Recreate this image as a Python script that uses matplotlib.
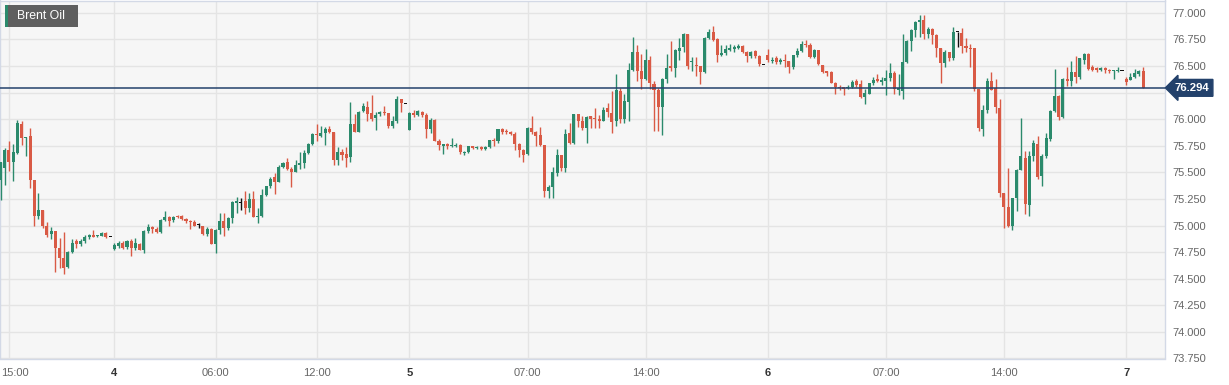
import numpy as np
import matplotlib
matplotlib.use("Agg")
import matplotlib.pyplot as plt
from matplotlib.patches import Rectangle
from matplotlib.transforms import ScaledTranslation

plt.rcParams['font.family'] = ['Liberation Sans', 'DejaVu Sans']

# 15-minute Brent Oil candles
opens = [
    75.43, 75.54, 75.71, 75.60, 75.68, 75.95, 75.82, 75.84, 75.43, 75.09,
    75.15, 75.00, 74.92, 74.95, 74.79, 74.69, 74.61, 74.75, 74.85, 74.83,
    74.85, 74.89, 74.91, 74.90, 74.90, 74.93, 74.90, 74.78, 74.81, 74.84,
    74.80, 74.85, 74.79, 74.83, 74.77, 74.95, 74.99, 74.97, 74.94, 75.05,
    75.08, 75.05, 75.09, 75.09, 75.06, 75.04, 75.03, 75.01, 75.00, 74.92,
    74.97, 74.83, 74.96, 75.04, 74.98, 75.07, 75.21, 75.22, 75.23, 75.16,
    75.25, 75.08, 75.09, 75.29, 75.37, 75.46, 75.41, 75.55, 75.60, 75.53,
    75.50, 75.57, 75.59, 75.68, 75.77, 75.86, 75.84, 75.87, 75.91, 75.88,
    75.62, 75.69, 75.67, 75.64, 75.95, 75.88, 76.08, 76.11, 76.06, 76.01,
    76.05, 76.07, 76.06, 75.94, 75.98, 76.19, 76.15, 75.90, 76.06, 76.04,
    76.07, 76.04, 75.91, 75.99, 75.79, 75.75, 75.77, 75.75, 75.75, 75.76,
    75.68, 75.69, 75.75, 75.73, 75.74, 75.72, 75.74, 75.80, 75.79, 75.91,
    75.89, 75.88, 75.86, 75.77, 75.71, 75.67, 75.92, 75.88, 75.85, 75.76,
    75.32, 75.36, 75.49, 75.66, 75.54, 75.87, 75.78, 76.05, 75.98, 75.92,
    76.03, 76.01, 76.00, 75.98, 76.10, 76.06, 75.98, 76.26, 76.00, 76.16,
    76.46, 76.63, 76.45, 76.38, 76.56, 76.33, 76.27, 76.11, 76.38, 76.50,
    76.48, 76.64, 76.68, 76.80, 76.54, 76.51, 76.50, 76.44, 76.76, 76.82,
    76.75, 76.60, 76.62, 76.65, 76.66, 76.67, 76.69, 76.63, 76.59, 76.64,
    76.59, 76.51, 76.60, 76.55, 76.57, 76.54, 76.56, 76.55, 76.49, 76.60,
    76.64, 76.71, 76.70, 76.58, 76.65, 76.51, 76.45, 76.44, 76.34, 76.30,
    76.30, 76.29, 76.30, 76.36, 76.33, 76.21, 76.24, 76.34, 76.38, 76.35,
    76.36, 76.39, 76.43, 76.27, 76.26, 76.54, 76.73, 76.84, 76.91, 76.93,
    76.80, 76.85, 76.79, 76.67, 76.53, 76.63, 76.57, 76.82, 76.81, 76.69,
    76.67, 76.67, 76.28, 75.91, 76.09, 76.36, 76.29, 76.10, 75.31, 75.17,
    75.00, 75.26, 75.52, 75.63, 75.19, 75.65, 75.77, 75.47, 75.65, 75.81,
    76.08, 76.22, 76.02, 76.38, 76.36, 76.44, 76.40, 76.56, 76.61, 76.49,
    76.48, 76.46, 76.48, 76.46, 76.45, 76.45, 76.46, 76.38, 76.37, 76.40,
    76.42, 76.45,
]
highs = [
    75.60, 75.73, 75.79, 75.77, 75.99, 75.98, 75.83, 75.92, 75.43, 75.31,
    75.15, 75.03, 74.99, 74.95, 74.88, 74.94, 74.76, 74.87, 74.87, 74.87,
    74.91, 74.92, 74.96, 74.91, 74.94, 74.94, 74.90, 74.84, 74.85, 74.85,
    74.86, 74.87, 74.88, 74.84, 74.96, 75.01, 75.00, 74.99, 75.06, 75.14,
    75.09, 75.09, 75.10, 75.10, 75.07, 75.05, 75.05, 75.02, 75.00, 74.99,
    74.98, 74.97, 75.12, 75.12, 75.08, 75.23, 75.27, 75.26, 75.32, 75.31,
    75.32, 75.16, 75.34, 75.37, 75.46, 75.49, 75.57, 75.60, 75.63, 75.55,
    75.62, 75.69, 75.71, 75.78, 75.87, 75.95, 75.94, 75.93, 75.94, 75.88,
    75.74, 75.72, 75.74, 76.16, 76.05, 76.08, 76.15, 76.17, 76.23, 76.07,
    76.08, 76.12, 76.06, 76.03, 76.22, 76.19, 76.15, 76.07, 76.09, 76.09,
    76.08, 76.06, 76.01, 76.00, 75.81, 75.77, 75.78, 75.82, 75.78, 75.77,
    75.70, 75.75, 75.75, 75.75, 75.75, 75.75, 75.80, 75.82, 75.91, 75.92,
    75.91, 75.89, 75.88, 75.78, 75.72, 75.93, 76.03, 75.89, 75.93, 75.76,
    75.38, 75.55, 75.72, 75.66, 75.91, 75.96, 76.05, 76.05, 76.03, 76.03,
    76.03, 76.10, 76.04, 76.11, 76.15, 76.26, 76.42, 76.29, 76.24, 76.53,
    76.77, 76.70, 76.61, 76.66, 76.59, 76.36, 76.29, 76.39, 76.61, 76.73,
    76.66, 76.76, 76.81, 76.80, 76.58, 76.58, 76.50, 76.77, 76.85, 76.88,
    76.76, 76.70, 76.70, 76.71, 76.70, 76.71, 76.70, 76.64, 76.64, 76.65,
    76.60, 76.51, 76.66, 76.58, 76.59, 76.57, 76.61, 76.55, 76.60, 76.67,
    76.73, 76.74, 76.72, 76.66, 76.65, 76.51, 76.45, 76.45, 76.35, 76.32,
    76.30, 76.32, 76.37, 76.38, 76.37, 76.28, 76.34, 76.40, 76.42, 76.40,
    76.46, 76.53, 76.45, 76.42, 76.80, 76.74, 76.85, 76.92, 76.98, 76.98,
    76.87, 76.86, 76.80, 76.67, 76.65, 76.63, 76.87, 76.82, 76.86, 76.76,
    76.71, 76.67, 76.28, 76.13, 76.39, 76.44, 76.38, 76.19, 75.31, 75.54,
    75.26, 75.53, 76.01, 75.70, 75.70, 75.80, 75.84, 75.67, 75.87, 76.09,
    76.47, 76.23, 76.39, 76.49, 76.55, 76.59, 76.57, 76.62, 76.62, 76.51,
    76.49, 76.49, 76.49, 76.47, 76.46, 76.49, 76.46, 76.40, 76.43, 76.47,
    76.46, 76.49,
]
lows = [
    75.24, 75.38, 75.51, 75.42, 75.67, 75.76, 75.65, 75.35, 75.00, 75.06,
    74.98, 74.89, 74.87, 74.56, 74.60, 74.54, 74.60, 74.74, 74.79, 74.81,
    74.84, 74.87, 74.89, 74.89, 74.90, 74.88, 74.90, 74.77, 74.79, 74.78,
    74.78, 74.71, 74.77, 74.77, 74.74, 74.93, 74.93, 74.93, 74.93, 75.04,
    75.00, 75.03, 75.07, 75.05, 75.02, 74.97, 75.00, 74.98, 74.91, 74.90,
    74.83, 74.74, 74.92, 74.90, 74.96, 75.02, 75.12, 75.15, 75.11, 75.13,
    75.08, 75.02, 75.08, 75.28, 75.35, 75.30, 75.41, 75.54, 75.52, 75.36,
    75.50, 75.53, 75.54, 75.67, 75.76, 75.79, 75.83, 75.76, 75.87, 75.57,
    75.57, 75.62, 75.55, 75.60, 75.88, 75.88, 76.07, 75.98, 75.98, 75.90,
    76.03, 76.04, 75.92, 75.92, 75.96, 76.07, 76.15, 75.90, 76.02, 76.03,
    76.02, 75.82, 75.87, 75.79, 75.71, 75.67, 75.72, 75.74, 75.74, 75.67,
    75.66, 75.68, 75.72, 75.72, 75.71, 75.71, 75.73, 75.75, 75.78, 75.86,
    75.86, 75.85, 75.71, 75.64, 75.60, 75.66, 75.86, 75.75, 75.75, 75.27,
    75.26, 75.26, 75.47, 75.51, 75.50, 75.77, 75.77, 75.93, 75.90, 75.78,
    75.92, 75.92, 75.92, 75.98, 76.02, 75.87, 75.94, 75.96, 75.96, 75.98,
    76.45, 76.36, 76.28, 76.37, 76.28, 75.89, 75.89, 75.85, 76.34, 76.45,
    76.40, 76.56, 76.63, 76.47, 76.45, 76.41, 76.33, 76.43, 76.75, 76.73,
    76.54, 76.59, 76.60, 76.64, 76.63, 76.66, 76.62, 76.54, 76.57, 76.57,
    76.50, 76.51, 76.54, 76.53, 76.52, 76.52, 76.49, 76.43, 76.47, 76.58,
    76.63, 76.68, 76.57, 76.57, 76.51, 76.43, 76.41, 76.34, 76.24, 76.27,
    76.23, 76.28, 76.29, 76.30, 76.20, 76.14, 76.24, 76.32, 76.35, 76.32,
    76.23, 76.36, 76.24, 76.23, 76.19, 76.53, 76.64, 76.77, 76.77, 76.75,
    76.76, 76.71, 76.58, 76.34, 76.49, 76.55, 76.56, 76.68, 76.62, 76.63,
    76.49, 76.26, 75.89, 75.84, 76.06, 76.27, 76.06, 75.27, 74.98, 74.99,
    74.96, 75.14, 75.52, 75.11, 75.09, 75.61, 75.44, 75.37, 75.63, 75.79,
    76.07, 75.99, 76.01, 76.31, 76.31, 76.34, 76.38, 76.52, 76.46, 76.45,
    76.44, 76.45, 76.43, 76.43, 76.38, 76.44, 76.46, 76.32, 76.37, 76.39,
    76.41, 76.294,
]
closes = [
    75.60, 75.71, 75.60, 75.69, 75.96, 75.82, 75.83, 75.43, 75.09, 75.15,
    75.00, 74.91, 74.95, 74.79, 74.69, 74.60, 74.75, 74.84, 74.83, 74.85,
    74.89, 74.91, 74.89, 74.91, 74.93, 74.89, 74.90, 74.82, 74.84, 74.79,
    74.85, 74.79, 74.84, 74.77, 74.95, 74.99, 74.97, 74.94, 75.05, 75.08,
    75.04, 75.08, 75.08, 75.06, 75.04, 75.03, 75.00, 75.01, 74.92, 74.97,
    74.83, 74.96, 75.04, 74.98, 75.07, 75.22, 75.23, 75.22, 75.16, 75.25,
    75.08, 75.09, 75.29, 75.37, 75.44, 75.41, 75.55, 75.59, 75.53, 75.50,
    75.57, 75.59, 75.68, 75.77, 75.86, 75.85, 75.87, 75.91, 75.88, 75.62,
    75.69, 75.66, 75.63, 75.95, 75.88, 76.07, 76.12, 76.05, 76.00, 76.04,
    76.07, 76.06, 75.94, 75.98, 76.19, 76.15, 76.15, 76.06, 76.04, 76.08,
    76.04, 75.91, 75.99, 75.79, 75.76, 75.77, 75.75, 75.76, 75.76, 75.69,
    75.69, 75.75, 75.73, 75.74, 75.72, 75.74, 75.80, 75.79, 75.91, 75.88,
    75.88, 75.86, 75.77, 75.71, 75.66, 75.92, 75.88, 75.84, 75.76, 75.32,
    75.36, 75.50, 75.66, 75.54, 75.86, 75.78, 76.05, 75.98, 75.92, 76.02,
    76.00, 76.00, 75.98, 76.09, 76.07, 75.97, 76.27, 76.00, 76.17, 76.46,
    76.63, 76.45, 76.38, 76.56, 76.34, 76.27, 76.11, 76.38, 76.48, 76.48,
    76.65, 76.67, 76.80, 76.50, 76.55, 76.50, 76.44, 76.76, 76.82, 76.74,
    76.60, 76.62, 76.66, 76.67, 76.68, 76.69, 76.63, 76.59, 76.63, 76.59,
    76.52, 76.51, 76.56, 76.56, 76.54, 76.56, 76.55, 76.49, 76.60, 76.64,
    76.71, 76.70, 76.58, 76.65, 76.52, 76.44, 76.43, 76.34, 76.30, 76.29,
    76.28, 76.30, 76.35, 76.32, 76.21, 76.25, 76.34, 76.37, 76.36, 76.37,
    76.39, 76.43, 76.28, 76.29, 76.54, 76.73, 76.84, 76.91, 76.93, 76.80,
    76.85, 76.79, 76.67, 76.53, 76.63, 76.57, 76.82, 76.82, 76.69, 76.67,
    76.66, 76.28, 75.92, 76.09, 76.36, 76.27, 76.11, 75.31, 75.17, 75.00,
    75.26, 75.52, 75.65, 75.20, 75.65, 75.78, 75.46, 75.65, 75.82, 76.08,
    76.22, 76.02, 76.38, 76.36, 76.44, 76.40, 76.57, 76.61, 76.47, 76.46,
    76.46, 76.48, 76.46, 76.45, 76.46, 76.46, 76.46, 76.35, 76.40, 76.43,
    76.45, 76.294,
]

tick_pos = [2, 27, 51, 75, 97, 125, 153, 182, 210, 238, 267]
tick_labels = ["15:00", "4", "06:00", "12:00", "5", "07:00", "14:00", "6", "07:00", "14:00", "7"]
day_labels = ["4", "5", "6", "7"]
y_ticks = [73.75, 74.0, 74.25, 74.5, 74.75, 75.0, 75.25, 75.5, 75.75, 76.0, 76.25, 76.5, 76.75, 77.0]
title = "Brent Oil"

up_col = "#2b8a6c"
down_col = "#d95a45"
doji_col = "#111111"
navy = "#23416b"

o = np.array(opens)
h = np.array(highs)
l = np.array(lows)
c = np.array(closes)
x = np.arange(len(o))
cols = np.where(c > o, up_col, np.where(c < o, down_col, doji_col))

fig = plt.figure(figsize=(12.29, 3.85), dpi=100)
fig.patch.set_facecolor("white")
ax = fig.add_axes([0.0, 1 - 358.5 / 385, 1165 / 1229, 358.0 / 385])
ax.set_facecolor("#f6f6f6")

# wicks + bodies
ax.vlines(x, l, h, colors=cols, lw=1, zorder=3)
body = np.maximum(np.abs(c - o), 0.009)
bottom = np.where(c == o, o - 0.0045, np.minimum(o, c))
ax.bar(x, body, width=0.72, bottom=bottom, color=cols, linewidth=0, zorder=4)

# current price line and tag (the tag sits over the 76.250 label, as in the source)
ax.axhline(c[-1], color=navy, lw=1.1, zorder=5)
ax.annotate(f"{c[-1]:.3f}", xy=(1.0, c[-1]), xycoords=('axes fraction', 'data'),
            xytext=(7, 0), textcoords='offset points', ha='left', va='center',
            color='white', fontweight='bold', fontsize=8.2, annotation_clip=False,
            zorder=20, bbox=dict(boxstyle='larrow,pad=0.3', fc=navy, ec=navy))

ax.set_xlim(-0.12, 276.2)
ax.set_ylim(73.75, 77.115)

ax.set_yticks(y_ticks)
ax.set_yticklabels([f"{v:.3f}" for v in y_ticks])
ax.yaxis.tick_right()
ax.tick_params(axis='y', length=0, pad=5, labelsize=8, labelcolor="#666666")
for lbl in ax.get_yticklabels():
    if lbl.get_text() == f"{76.25:.3f}":
        lbl.set_alpha(0.25)

ax.set_xticks(tick_pos)
ax.set_xticklabels(tick_labels)
ax.tick_params(axis='x', length=0, pad=7, labelsize=8, labelcolor="#666666")
for lbl in ax.get_xticklabels():
    if lbl.get_text() in day_labels:
        lbl.set_fontweight('bold')
        lbl.set_color("#333333")
first = ax.get_xticklabels()[0]
first.set_ha('left')
first.set_transform(first.get_transform() + ScaledTranslation(-8 / 100, 0, fig.dpi_scale_trans))

ax.grid(True, color="#e4e4e4", lw=1)
ax.set_axisbelow(True)
for s in ax.spines.values():
    s.set_color("#d3d9e6")
    s.set_linewidth(1)

# title badge
fig.add_artist(Rectangle((5 / 1229, 1 - 27 / 385), 73 / 1229, 22 / 385,
                         transform=fig.transFigure, fc="#5f5f5f", ec="none", zorder=10))
fig.add_artist(Rectangle((5 / 1229, 1 - 27 / 385), 2.5 / 1229, 22 / 385,
                         transform=fig.transFigure, fc=up_col, ec="none", zorder=11))
fig.text(17 / 1229, 1 - 16 / 385, title, color="white", fontsize=8.8,
         va='center', ha='left', zorder=12)

fig.savefig("out.png", dpi=100)
